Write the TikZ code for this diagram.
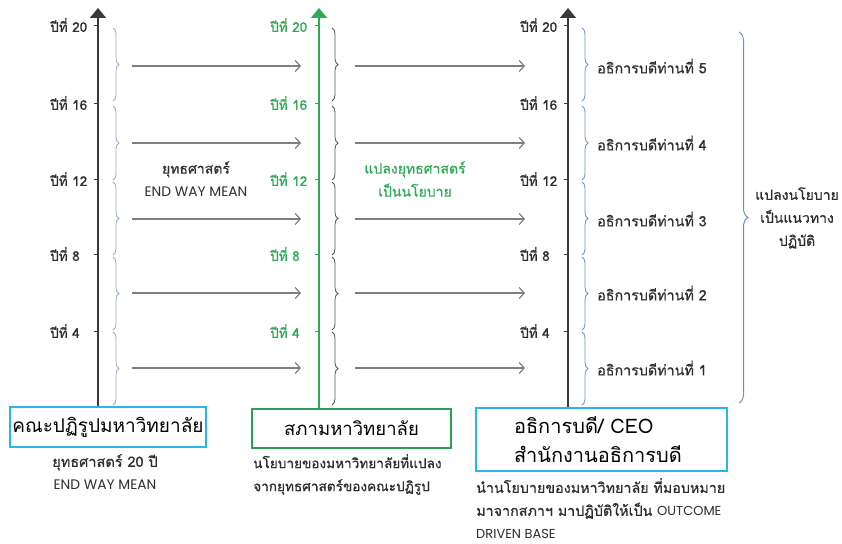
\documentclass[tikz,border=0pt]{standalone}
\usepackage{fontspec}
\setmainfont[Script=Thai]{Loma}
\newfontfamily\thmid[Script=Thai,FakeBold=0.6]{Loma}
\newfontfamily\latf{Poppins}
\usetikzlibrary{arrows.meta,decorations.pathreplacing}
\definecolor{axgray}{HTML}{3A3A3A}
\definecolor{grn}{HTML}{2EAA55}
\definecolor{cyanb}{HTML}{29B6E8}
\definecolor{boxgrn}{HTML}{2E9E50}
\definecolor{brblue}{HTML}{9AA8D8}
\definecolor{brblue2}{HTML}{7090CC}
\definecolor{brgray}{HTML}{555555}
\definecolor{arrg}{HTML}{7F7F7F}
\definecolor{txt}{HTML}{2E2E2E}
\begin{document}
\begin{tikzpicture}[x=1pt,y=-1pt,
  axisline/.style={line width=1.6pt, -{Triangle[width=16pt,length=10pt]}},
  yrlab/.style={anchor=west, font=\thmid\fontsize{13.5}{15}\selectfont, inner sep=0pt},
  tck/.style={line width=0.8pt},
  brc/.style={decorate, decoration={brace, amplitude=6pt, aspect=0.5}, line width=0.8pt},
  bigbrc/.style={decorate, decoration={brace, amplitude=9pt, aspect=0.5}, line width=1pt, brblue2},
  flow/.style={arrg, line width=1.2pt, -{Straight Barb[length=5pt,width=11pt]}},
  titlebox/.style={draw, line width=2pt, inner sep=2pt, text=black},
  subtxt/.style={text=txt, inner sep=0pt},
  midtxt/.style={font=\thmid\fontsize{14}{23}\selectfont, align=center, inner sep=0pt},
  dirtxt/.style={anchor=west, font=\thmid\fontsize{14.3}{16}\selectfont, text=txt, inner sep=0pt}
]
\useasboundingbox[fill=white] (0,0) rectangle (842,543);

% boxes
\node[titlebox, draw=cyanb, minimum width=196pt, minimum height=40pt,
      font=\fontsize{19}{22}\selectfont] (box1) at (108,427) {คณะปฏิรูปมหาวิทยาลัย};
\node[titlebox, draw=boxgrn, minimum width=199pt, minimum height=39pt,
      font=\fontsize{18.5}{22}\selectfont] (box2) at (351.5,428.5) {สภามหาวิทยาลัย};
\node[titlebox, draw=cyanb, minimum height=63pt, text width=175pt, inner xsep=38pt, align=left,
      font=\fontsize{20}{29}\selectfont] (box3) at (601.5,439.5) {อธิการบดี/ CEO\\สำนักงานอธิการบดี};

% texts under boxes
\node[subtxt, align=center, anchor=north, font=\thmid\fontsize{14.5}{22.5}\selectfont] (sub1) at (105,454) {ยุทธศาสตร์ 20 ปี\\{\latf\fontsize{13.8}{22.5}\selectfont END WAY MEAN}};
\node[subtxt, align=left, anchor=north west, font=\thmid\fontsize{13.6}{23}\selectfont] (sub2) at (253,454) {นโยบายของมหาวิทยาลัยที่แปลง\\จากยุทธศาสตร์ของคณะปฏิรูป};
\node[subtxt, align=left, anchor=north west, font=\thmid\fontsize{14.3}{23}\selectfont] (sub3) at (476,478) {นำนโยบายของมหาวิทยาลัย ที่มอบหมาย\\มาจากสภาฯ มาปฏิบัติให้เป็น {\latf\fontsize{13}{23}\selectfont OUTCOME}\\{\latf\fontsize{13}{23}\selectfont DRIVEN BASE}};

% axes
\coordinate (t1) at (98,8);
\coordinate (t2) at (319,8);
\coordinate (t3) at (568,8);
\draw[axisline, axgray] (box1.north -| t1) -- (t1);
\draw[axisline, grn] (box2.north -| t2) -- (t2);
\draw[axisline, axgray] (box3.north -| t3) -- (t3);

% year labels and ticks
\foreach \yr/\yy in {20/25,16/103,12/179,8/254,4/331}{
  \node[yrlab, text=txt] (la\yr) at (50,\yy) {ปีที่ \yr};
  \node[yrlab, text=grn] (lb\yr) at (270,\yy) {ปีที่ \yr};
  \node[yrlab, text=txt] (lc\yr) at (520,\yy) {ปีที่ \yr};
  \coordinate (ka\yr) at (98,\yy);
  \coordinate (kb\yr) at (319,\yy);
  \coordinate (kc\yr) at (568,\yy);
  \draw[tck, axgray] ([xshift=-4pt]ka\yr) -- (ka\yr);
  \draw[tck, grn] ([xshift=-4pt]kb\yr) -- (kb\yr);
  \draw[tck, axgray] ([xshift=-4pt]kc\yr) -- (kc\yr);
}

% braces
\foreach \ya/\yb in {28/101,106/180,182/255,257/330,332/405}{
  \draw[brc, brblue] (113,\ya) -- (113,\yb);
  \draw[brc, brgray] (332,\ya) -- (332,\yb);
  \draw[brc, brblue2] (582,\ya) -- (582,\yb);
}
\draw[bigbrc] (739,32) -- (739,403);

% flow arrows
\foreach \n/\yy in {5/66,4/143,3/219,2/293,1/368}{
  \coordinate (p\n) at (132,\yy);
  \coordinate (q\n) at (301,\yy);
  \coordinate (r\n) at (355,\yy);
  \coordinate (s\n) at (525,\yy);
  \draw[flow] (p\n) -- (q\n);
  \draw[flow] (r\n) -- (s\n);
  \node[dirtxt] (d\n) at (597,\yy) {อธิการบดีท่านที่ \n};
}

% middle texts
\node[midtxt, text=txt] (m1) at (196,179) {ยุทธศาสตร์\\{\latf\fontsize{13.8}{23}\selectfont END WAY MEAN}};
\node[midtxt, text=grn] (m2) at (415,179) {แปลงยุทธศาสตร์\\เป็นนโยบาย};
\node[midtxt, text=txt] (m3) at (797,218) {แปลงนโยบาย\\เป็นแนวทาง\\ปฏิบัติ};
\end{tikzpicture}
\end{document}
